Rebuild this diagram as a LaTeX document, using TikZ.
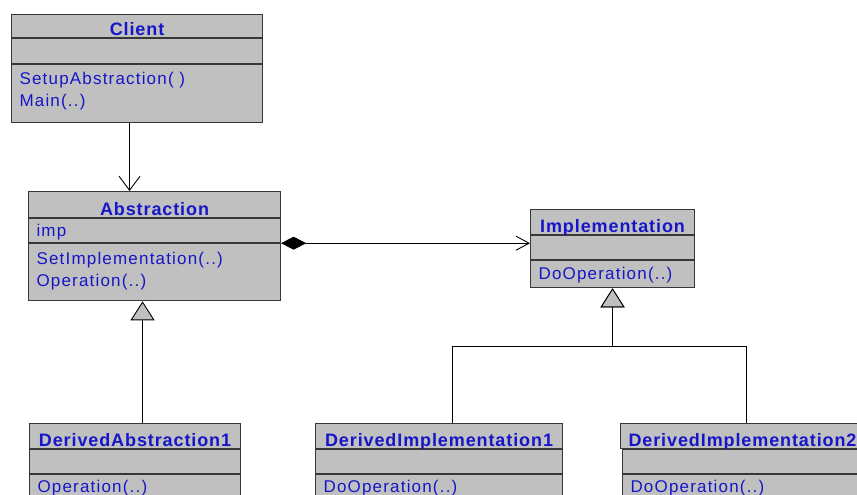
\documentclass[tikz,border=0pt]{standalone}
\usepackage{fontspec}
\setmainfont{Liberation Sans}[LetterSpace=7,BoldFeatures={LetterSpace=5}]
\usepackage{tikz}
\usetikzlibrary{arrows.meta,positioning}
\definecolor{umlgray}{RGB}{192,192,192}
\definecolor{umlblue}{RGB}{22,22,200}
\definecolor{umlline}{RGB}{55,55,55}

\begin{document}
\begin{tikzpicture}[
  x=1pt, y=-1pt,
  node distance=0pt,
  part/.style={rectangle, draw=umlline, line width=1.1pt, fill=umlgray,
               text=umlblue, inner xsep=8pt, inner ysep=0pt},
  head/.style={part, font=\bfseries\fontsize{18}{21}\selectfont, align=center, text depth=2pt},
  body/.style={part, font=\fontsize{17}{21.5}\selectfont, align=left},
  assoc/.style={-{Straight Barb[length=14pt,width=21pt]}, line width=0.9pt},
  compose/.style={{Diamond[length=25pt,width=13pt]}-{Straight Barb[length=13pt,width=14pt]}, line width=0.9pt},
  inherit/.style={-{Triangle[length=19pt,width=24pt,fill=umlgray]}, line width=0.9pt},
]
  \clip (0,0) rectangle (857,495);

  % Client
  \node[head, minimum width=251pt, text height=21pt, anchor=north west] (clientT) at (11,14) {Client};
  \node[body, text width=235pt, text height=20pt, text depth=5pt, below=of clientT] (clientA) {};
  \node[body, text width=235pt, text height=20pt, text depth=38pt, below=of clientA] (clientM) {SetupAbstraction( )\\Main(..)};

  % Abstraction
  \node[head, minimum width=252pt, text height=24pt, anchor=north west] (absT) at (28,191) {Abstraction};
  \node[body, text width=236pt, text height=18pt, text depth=6pt, below=of absT] (absA) {imp};
  \node[body, text width=236pt, text height=21pt, text depth=36pt, below=of absA] (absM) {SetImplementation(..)\\Operation(..)};

  % Implementation
  \node[head, minimum width=164pt, text height=23pt, anchor=north west] (implT) at (530,209) {Implementation};
  \node[body, text width=148pt, text height=19pt, text depth=5pt, below=of implT] (implA) {};
  \node[body, text width=148pt, text height=19pt, text depth=8pt, below=of implA] (implM) {DoOperation(..)};

  % derived classes
  \node[head, minimum width=211pt, text height=23pt, anchor=north west] (da1T) at (29,423) {DerivedAbstraction1};
  \node[body, text width=195pt, text height=19pt, text depth=5pt, below=of da1T] (da1A) {};
  \node[body, text width=195pt, text height=18pt, text depth=30pt, below=of da1A] (da1M) {Operation(..)};

  \node[head, minimum width=247pt, text height=23pt, anchor=north west] (di1T) at (315,423) {DerivedImplementation1};
  \node[body, text width=231pt, text height=19pt, text depth=5pt, below=of di1T] (di1A) {};
  \node[body, text width=231pt, text height=18pt, text depth=30pt, below=of di1A] (di1M) {DoOperation(..)};

  \node[head, minimum width=240pt, text height=23pt, anchor=north west] (di2T) at (620,423) {DerivedImplementation2};
  \node[body, text width=224pt, text height=19pt, text depth=5pt, below=of di2T] (di2A) {};
  \node[body, text width=224pt, text height=18pt, text depth=30pt, below=of di2A] (di2M) {DoOperation(..)};

  \coordinate (bus) at (0,346);

  \draw[assoc] ([xshift=-7.5pt]clientM.south) -- ([xshift=-7.5pt]clientM.south |- absT.north);
  \draw[compose] (absA.south east) -- (absA.south east -| implA.west);
  \draw[inherit] ([xshift=7.5pt]da1T.north) -- ([xshift=7.5pt]da1T.north |- absM.south);
  \draw[inherit] ([xshift=13.5pt]di1T.north) |- (bus -| implM.south) -- (implM.south);
  \draw[inherit] ([xshift=4pt]di2T.north) |- (bus -| implM.south) -- (implM.south);
\end{tikzpicture}
\end{document}
